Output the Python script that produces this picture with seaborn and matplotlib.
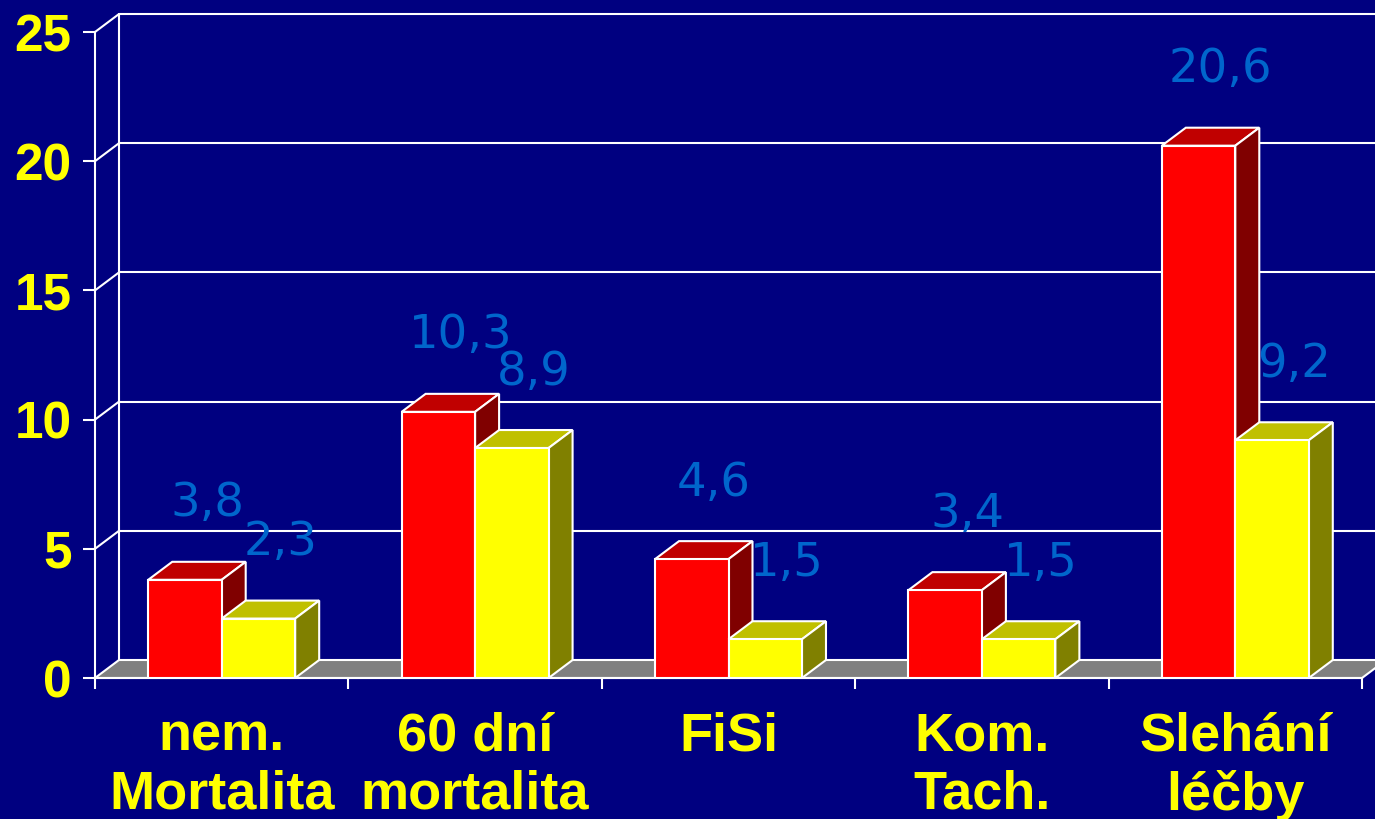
import matplotlib
matplotlib.use("Agg")
import matplotlib.pyplot as plt
from matplotlib.patches import Polygon
import pandas as pd
import seaborn as sns

# data
categories = ["nem.\nMortalita", "60 dní\nmortalita", "FiSi", "Kom.\nTach.", "Slehání\nléčby"]
groups = ["A", "B"]
values_a = [3.8, 10.3, 4.6, 3.4, 20.6]
values_b = [2.3, 8.9, 1.5, 1.5, 9.2]
y_ticks = [0, 5, 10, 15, 20, 25]

navy = "#000080"
front_cols = ["#FF0000", "#FFFF00"]
top_cols = ["#C00000", "#C0C000"]
side_cols = ["#800000", "#808000"]
label_col = "#0066CC"
yellow = "#FFFF00"

df = pd.DataFrame({
    "kat": categories * 2,
    "skup": [groups[0]] * len(categories) + [groups[1]] * len(categories),
    "hodnota": values_a + values_b,
})

sns.set_theme(style="white")
plt.rcParams["font.family"] = ["Liberation Sans", "DejaVu Sans"]

W, H = 1375, 819
fig = plt.figure(figsize=(W / 100, H / 100), dpi=100, facecolor=navy)
ax = fig.add_axes([95 / W, (H - 678) / H, 1267 / W, 646 / H])
ax.set_facecolor(navy)

sns.barplot(data=df, x="kat", y="hodnota", hue="skup", palette=front_cols,
            width=0.58, gap=0, saturation=1, legend=False, ax=ax,
            edgecolor="white", linewidth=1.5)

ax.set_xlim(-0.5, len(categories) - 0.5)
ax.set_ylim(0, 25)

# 3D depth offset in data units
dx = 24 / 253.4
dy = 18 / 25.84
x_left, x_right = -0.5, len(categories) - 0.5

# back wall gridlines + left wall
for v in y_ticks[1:]:
    ax.plot([x_left + dx, x_right + dx], [v + dy, v + dy], color="white", lw=1.5,
            clip_on=False, zorder=1)
    ax.plot([x_left, x_left + dx], [v, v + dy], color="white", lw=1.5,
            clip_on=False, zorder=1)
ax.plot([x_left + dx] * 2, [dy, 25 + dy], color="white", lw=1.5, clip_on=False, zorder=1)

# floor
floor = Polygon([(x_left, 0), (x_right, 0), (x_right + dx, dy), (x_left + dx, dy)],
                closed=True, fc="#808080", ec="white", lw=1.5, clip_on=False, zorder=1.5)
ax.add_patch(floor)

# side and top faces of the bars
for i, cont in enumerate(ax.containers):
    base = 3 + i
    for p in cont.patches:
        x0, w, h = p.get_x(), p.get_width(), p.get_height()
        p.set_zorder(base)
        top = Polygon([(x0, h), (x0 + w, h), (x0 + w + dx, h + dy), (x0 + dx, h + dy)],
                      closed=True, fc=top_cols[i], ec="white", lw=1.5, zorder=base - 0.1)
        side = Polygon([(x0 + w, 0), (x0 + w, h), (x0 + w + dx, h + dy), (x0 + w + dx, dy)],
                       closed=True, fc=side_cols[i], ec="white", lw=1.5, zorder=base - 0.1)
        ax.add_patch(top)
        ax.add_patch(side)
        lab = f"{h:.1f}".replace(".", ",")
        ax.annotate(lab, xy=(x0 + w / 2, h), xytext=(22 * 0.72, 76 * 0.72),
                    textcoords="offset points", ha="center", va="center",
                    color=label_col, fontsize=33.5, family="DejaVu Sans", zorder=6)

# axes styling
for s in ["top", "right"]:
    ax.spines[s].set_visible(False)
for s in ["left", "bottom"]:
    ax.spines[s].set_color("white")
    ax.spines[s].set_linewidth(1.5)
    ax.spines[s].set_zorder(2)

ax.set_yticks(y_ticks)
ax.set_yticklabels([str(t) for t in y_ticks])
ax.tick_params(axis="y", colors="white", labelcolor=yellow, direction="out",
               length=9, width=1.5, pad=8, labelsize=37, left=True)
ax.set_xticks(range(len(categories)))
ax.set_xticklabels(categories, linespacing=1.22)
ax.set_xticks([k - 0.5 for k in range(len(categories) + 1)], minor=True)
ax.tick_params(axis="x", which="major", length=0, pad=24, labelcolor=yellow, labelsize=39)
ax.tick_params(axis="x", which="minor", length=8, width=1.5, color="white", bottom=True)
for t in ax.get_xticklabels() + ax.get_yticklabels():
    t.set_fontweight("bold")
    t.set_family("Liberation Sans")
for t in ax.get_xticklabels():
    t.set_multialignment("center")

ax.set_xlabel("")
ax.set_ylabel("")
ax.grid(False)

fig.savefig("out.png", dpi=100, facecolor=navy)
